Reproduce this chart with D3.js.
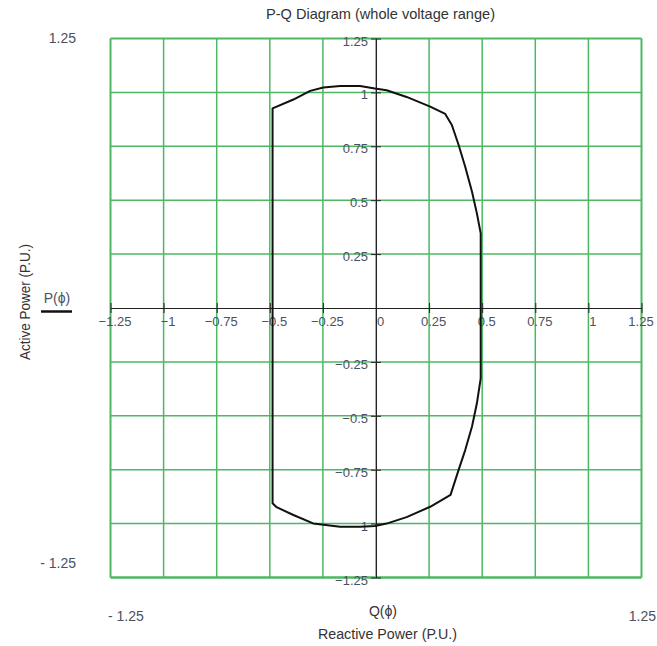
<!DOCTYPE html>
<html>
<head>
<meta charset="utf-8">
<script src="https://cdn.jsdelivr.net/npm/d3@7"></script>
<style>
  body { margin: 0; background: #fff; }
  text { font-family: "Liberation Sans", Arial, sans-serif; }
</style>
</head>
<body>
<div id="graph"></div>
<script>
//chart data
const title = "P-Q Diagram (whole voltage range)";
const xName = "Reactive Power (P.U.)", yName = "Active Power (P.U.)";
const xVar = "Q(\u03D5)", yVar = "P(\u03D5)";
const xTicks = [-1.25, -1, -0.75, -0.5, -0.25, 0, 0.25, 0.5, 0.75, 1, 1.25];
const yTicks = [1.25, 1, 0.75, 0.5, 0.25, -0.25, -0.5, -0.75, -1, -1.25];
const xTickLabels = ["\u22121.25", "\u22121", "\u22120.75", "\u22120.5", "\u22120.25", "0", "0.25", "0.5", "0.75", "1", "1.25"];
const yTickLabels = ["1.25", "1", "0.75", "0.5", "0.25", "\u22120.25", "\u22120.5", "\u22120.75", "\u22121", "\u22121.25"];
const xLimits = [-1.25, 1.25], yLimits = [-1.25, 1.25];

//capability curve, clockwise from the top left corner
const qValues = [-0.487, -0.389, -0.310, -0.248, -0.169, -0.075, -0.005, 0.050, 0.144, 0.255, 0.326, 0.357,
                 0.389, 0.420, 0.452, 0.475, 0.493, 0.493, 0.475, 0.452, 0.420, 0.389, 0.351, 0.255,
                 0.144, 0.050, -0.005, -0.075, -0.169, -0.296, -0.389, -0.468, -0.487];
const pValues = [0.926, 0.967, 1.007, 1.023, 1.030, 1.030, 1.018, 1.010, 0.979, 0.934, 0.900, 0.849,
                 0.756, 0.655, 0.539, 0.439, 0.346, -0.326, -0.442, -0.550, -0.659, -0.751, -0.867, -0.922,
                 -0.970, -1.000, -1.011, -1.015, -1.015, -0.999, -0.960, -0.924, -0.906];

////////////////// setup ////////////////////////////////////
const width = 657, height = 646;
const plot = { left: 110.5, right: 641.5, top: 38.5, bottom: 577.5 };
const gridColor = "#4cb862", labelColor = "#4a5262";

let svg = d3.select("#graph")
            .append("svg")
            .attr("width", width)
            .attr("height", height);

let x = d3.scaleLinear().domain(xLimits).range([plot.left, plot.right]);
let y = d3.scaleLinear().domain(yLimits).range([plot.bottom, plot.top]);

////////////////// grid ////////////////////////////////////
let grid = svg.append("g");
grid.selectAll("line.v")
    .data(xTicks)
    .enter()
    .append("line")
    .attr("x1", d => x(d)).attr("x2", d => x(d))
    .attr("y1", y(yLimits[0])).attr("y2", y(yLimits[1]))
    .style("stroke", gridColor)
    .style("stroke-width", d => Math.abs(d) === 1.25 ? 2 : 1.5);
grid.selectAll("line.h")
    .data(yTicks)
    .enter()
    .append("line")
    .attr("y1", d => y(d)).attr("y2", d => y(d))
    .attr("x1", x(xLimits[0])).attr("x2", x(xLimits[1]))
    .style("stroke", gridColor)
    .style("stroke-width", d => d === -1.25 ? 2.5 : (d === 1.25 ? 2 : 1.5));

////////////////// axes through the origin ////////////////////////////////////
let axisX = d3.axisBottom(x)
              .tickValues(xTicks)
              .tickSize(0)
              .tickFormat((d, i) => xTickLabels[i]);
let gx = svg.append("g")
            .attr("transform", `translate(0,${y(0)})`)
            .call(axisX);
gx.select(".domain").attr("stroke", "#222").attr("stroke-width", 1);
gx.selectAll(".tick").append("line")
  .attr("y1", -5).attr("y2", 5)
  .attr("stroke", "#222");
gx.selectAll(".tick text")
  .attr("y", 18).attr("dy", 0)
  .attr("dx", d => d === xLimits[1] ? -1 : 4)   // last label kept inside the page
  .attr("fill", labelColor)
  .style("font-size", "13px");

let axisY = d3.axisLeft(y)
              .tickValues(yTicks)
              .tickSize(0)
              .tickFormat((d, i) => yTickLabels[i]);
let gy = svg.append("g")
            .attr("transform", `translate(${x(0)},0)`)
            .call(axisY);
gy.select(".domain").attr("stroke", "#222").attr("stroke-width", 1);
gy.selectAll(".tick").append("line")
  .attr("x1", -5).attr("x2", 5)
  .attr("stroke", "#222");
gy.selectAll(".tick text")
  .attr("x", -8).attr("dy", 6.5)
  .attr("fill", labelColor)
  .style("font-size", "13px");

////////////////// curve ////////////////////////////////////
let pts = qValues.map((q, i) => [x(q), y(pValues[i])]);
svg.append("path")
   .datum(pts)
   .attr("d", d3.line().curve(d3.curveLinearClosed))
   .style("fill", "none")
   .style("stroke", "#111")
   .style("stroke-width", 2)
   .style("stroke-linejoin", "round");

////////////////// outer texts ////////////////////////////////////
//title
svg.append("text")
   .attr("x", 266).attr("y", 19)
   .attr("textLength", 229).attr("lengthAdjust", "spacingAndGlyphs")
   .style("font-size", "15px").attr("fill", "#333")
   .text(title);
//limits written around the plot
svg.append("text").attr("x", 76).attr("y", 43).style("text-anchor", "end")
   .style("font-size", "14px").attr("fill", labelColor).text(yLimits[1]);
svg.append("text").attr("x", 76).attr("y", 568).style("text-anchor", "end")
   .style("font-size", "14px").attr("fill", labelColor).text("- " + Math.abs(yLimits[0]));
svg.append("text").attr("x", 108).attr("y", 621)
   .style("font-size", "14px").attr("fill", labelColor).text("- " + Math.abs(xLimits[0]));
svg.append("text").attr("x", 656).attr("y", 621).style("text-anchor", "end")
   .style("font-size", "14px").attr("fill", labelColor).text(xLimits[1]);
//variable names
svg.append("text").attr("x", 383).attr("y", 616).style("text-anchor", "middle")
   .style("font-size", "14px").attr("fill", "#333").text(xVar);
svg.append("text").attr("x", 57).attr("y", 303).style("text-anchor", "middle")
   .style("font-size", "14px").attr("fill", labelColor).text(yVar);
svg.append("line")
   .attr("x1", 41).attr("x2", 72).attr("y1", 311.5).attr("y2", 311.5)
   .style("stroke", "#111").style("stroke-width", 2.5);
//axis titles
svg.append("text")
   .attr("x", 318).attr("y", 639)
   .attr("textLength", 139).attr("lengthAdjust", "spacingAndGlyphs")
   .style("font-size", "14px").attr("fill", "#333")
   .text(xName);
svg.append("text")
   .attr("transform", "translate(30,360) rotate(-90)")
   .attr("textLength", 116).attr("lengthAdjust", "spacingAndGlyphs")
   .style("font-size", "14px").attr("fill", "#333")
   .text(yName);
</script>
</body>
</html>
